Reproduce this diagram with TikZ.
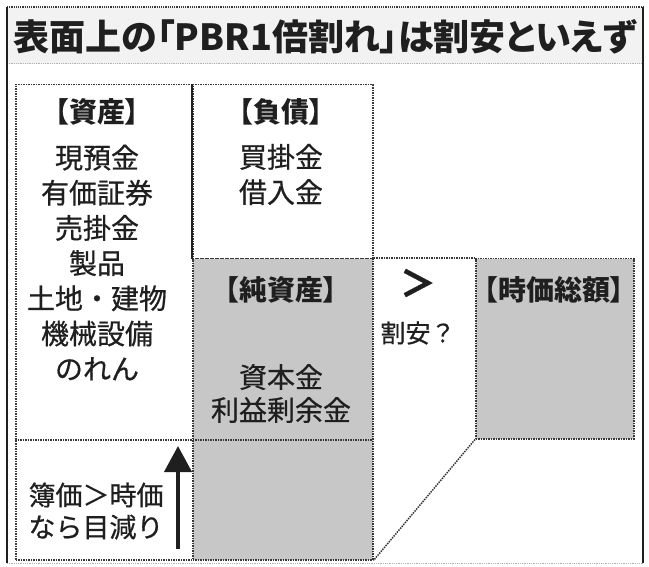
\documentclass[tikz,border=0pt]{standalone}
\usepackage{fontspec}
\usetikzlibrary{arrows.meta}
\newfontfamily\jp[FakeBold=0.6]{Noto Sans CJK JP}
\newfontfamily\jpp[RawFeature=+palt]{Noto Sans CJK JP}
\definecolor{ink}{gray}{0.12}
\definecolor{boxgray}{gray}{0.78}
\definecolor{edge}{gray}{0.22}
\tikzset{
  x=1pt, y=-1pt,
  panel/.style={draw=edge, densely dotted, line width=1.5pt, inner sep=0pt, anchor=north west},
  whitebox/.style={panel, fill=white},
  graybox/.style={panel, fill=boxgray},
  head/.style={font=\jpp\bfseries\fontsize{28}{30}\selectfont, text=ink, inner sep=0pt},
  items/.style={font=\jp\fontsize{28}{35.2}\selectfont, text=ink, align=center, inner sep=0pt},
  sepline/.style={draw=edge, densely dotted, line width=1.5pt},
}
\begin{document}
\begin{tikzpicture}
\useasboundingbox (0,0) rectangle (649,567);
\fill[white] (0,0) rectangle (649,567);
% title band
\fill[gray!10] (7,7) rectangle (643,64);
\node[font=\jpp\bfseries\fontsize{36}{38}\selectfont, text=ink, inner sep=0pt] (title) at (325,37) {表面上の「PBR1倍割れ」は割安といえず};
% outer frame
\draw[edge, densely dotted, line width=1.2pt] (7,7) -- (643,7);
\draw[densely dotted, line width=0.8pt, gray!60] (7,63) -- (643,63);
\draw[ink, line width=1.5pt] (7,7) -- (7,563);
\draw[ink, line width=1.5pt] (643,7) -- (643,563);
\draw[densely dotted, line width=0.8pt, gray!60] (7,563) -- (643,563);
% boxes
\node[whitebox, minimum width=177pt, minimum height=475pt] (assets) at (15,84) {};
\node[whitebox, minimum width=180pt, minimum height=174pt] (liab) at (192,84) {};
\node[graybox, minimum width=180pt, minimum height=301pt] (net) at (192,258) {};
\node[graybox, minimum width=158pt, minimum height=180pt] (mcap) at (475,258) {};
\draw[ink, line width=1.2pt] (liab.north west) -- (liab.south west);
\draw[sepline] (net.north east) -- (mcap.north west);
\draw[sepline] (mcap.south west) -- (net.south east);
\coordinate (sepL) at (15,440);
\coordinate (sepR) at (372,440);
\draw[sepline] (sepL) -- (sepR);
% texts
\node[head] (ahead) at (97,112) {【資産】};
\node[items] (aitems) at (97,262.5) {現預金\\有価証券\\売掛金\\製品\\土地・建物\\機械設備\\のれん};
\node[head] (lhead) at (281,112) {【負債】};
\node[items] (litems) at (281,174.5) {買掛金\\借入金};
\node[head] (nhead) at (281,290) {【純資産】};
\node[items, font=\jp\fontsize{28}{33}\selectfont] (nitems) at (281,393.5) {資本金\\利益剰余金};
\node[head] (mhead) at (554,290) {【時価総額】};
\node[font=\jp\bfseries\fontsize{36}{36}\selectfont, text=ink, inner sep=0pt] (gt) at (418,283) {＞};
\node[font=\jp\fontsize{25}{27}\selectfont, text=ink, inner sep=0pt] (cheap) at (418,333) {割安？};
\node[items, font=\jp\fontsize{27}{32}\selectfont] (note) at (96,511) {簿価＞時価\\なら目減り};
% arrow
\coordinate (arrTail) at (178,549);
\coordinate (arrTip) at (178,446);
\draw[ink, line width=4pt, -{Triangle[width=27pt,length=26pt]}] (arrTail) -- (arrTip);
\end{tikzpicture}
\end{document}
